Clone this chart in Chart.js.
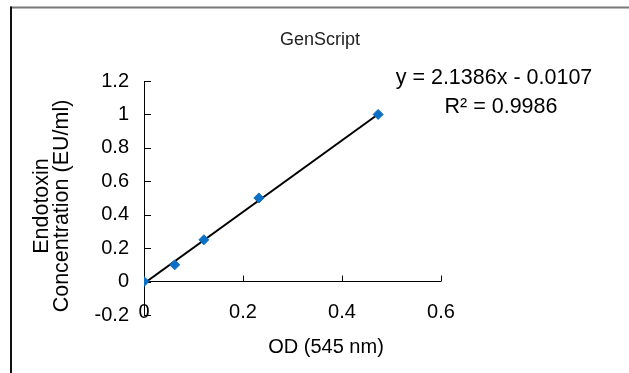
<!DOCTYPE html>
<html>
<head>
<meta charset="utf-8">
<script src="https://cdn.jsdelivr.net/npm/chart.js@4/dist/chart.umd.min.js"></script>
<style>
  html, body { margin: 0; padding: 0; background: #fff; }
  canvas { display: block; }
</style>
</head>
<body>
<canvas id="chart" width="629" height="373"></canvas>
<script>
// Data
const odValues = [0, 0.062, 0.121, 0.232, 0.473];     // OD (545 nm)
const concValues = [0, 0.1, 0.25, 0.5, 1];            // EU/ml
const xTickValues = [0, 0.2, 0.4, 0.6];
const yTickValues = [-0.2, 0, 0.2, 0.4, 0.6, 0.8, 1, 1.2];
const trendSlope = 2.1386;
const trendIntercept = -0.0107;
const equationText = 'y = 2.1386x - 0.0107';
const r2Text = 'R\u00B2 = 0.9986';

const FONT = '"Liberation Sans", Arial, sans-serif';

const points = odValues.map((x, i) => ({ x: x, y: concValues[i] }));
const firstX = odValues[0];
const lastX = odValues[odValues.length - 1];
const trendPoints = [
  { x: firstX, y: trendSlope * firstX + trendIntercept },
  { x: lastX, y: trendSlope * lastX + trendIntercept }
];

const fmt = v => String(Math.round(v * 10) / 10);

// inside tick marks, frame and the free text boxes
const decorPlugin = {
  id: 'decor',
  beforeDatasetsDraw(chart) {
    const { ctx, chartArea, scales } = chart;
    const y0 = scales.y.getPixelForValue(0);
    ctx.save();
    ctx.strokeStyle = '#000';
    ctx.lineWidth = 1;
    ctx.beginPath();
    yTickValues.forEach(v => {
      const py = Math.round(scales.y.getPixelForValue(v)) + 0.5;
      ctx.moveTo(chartArea.left, py);
      ctx.lineTo(chartArea.left + 7, py);
    });
    xTickValues.forEach(v => {
      if (v === 0) return;
      const px = Math.round(scales.x.getPixelForValue(v)) + 0.5;
      ctx.moveTo(px, y0);
      ctx.lineTo(px, y0 - 6);
    });
    ctx.stroke();
    ctx.restore();
  },
  afterDraw(chart) {
    const { ctx } = chart;
    ctx.save();
    // frame
    ctx.lineWidth = 2;
    ctx.strokeStyle = '#7a7a7a';
    ctx.beginPath();
    ctx.moveTo(10, 7.5);
    ctx.lineTo(629, 7.5);
    ctx.stroke();
    ctx.strokeStyle = '#111';
    ctx.beginPath();
    ctx.moveTo(11, 6.5);
    ctx.lineTo(11, 373);
    ctx.stroke();

    ctx.textBaseline = 'middle';
    ctx.textAlign = 'center';
    ctx.fillStyle = '#222';
    ctx.font = '18px ' + FONT;
    ctx.fillText('GenScript', 320, 40);

    ctx.fillStyle = '#000';
    ctx.font = '21.5px ' + FONT;
    ctx.fillText(equationText, 494, 78);
    ctx.fillText(r2Text, 501, 107);
    ctx.font = '20px ' + FONT;
    ctx.fillText('OD (545 nm)', 326, 347);

    ctx.font = '21.5px ' + FONT;
    ctx.translate(52, 206);
    ctx.rotate(-Math.PI / 2);
    ctx.fillText('Endotoxin', 0, -10);
    ctx.fillText('Concentration (EU/ml)', 0, 10);
    ctx.restore();
  }
};

new Chart(document.getElementById('chart'), {
  type: 'scatter',
  data: {
    datasets: [
      {
        label: 'Standards',
        data: points,
        pointStyle: 'rectRot',
        pointRadius: 5,
        backgroundColor: '#0b6fc4',
        borderColor: '#0b6fc4',
        borderWidth: 1,
        order: 1
      },
      {
        label: 'Linear fit',
        data: trendPoints,
        showLine: true,
        borderColor: '#000',
        borderWidth: 2,
        pointRadius: 0,
        order: 2
      }
    ]
  },
  options: {
    responsive: false,
    animation: false,
    layout: { padding: { left: 0, top: 81, right: 188, bottom: 0 } },
    plugins: {
      legend: { display: false },
      tooltip: { enabled: false }
    },
    scales: {
      x: {
        type: 'linear',
        min: 0,
        max: 0.6,
        afterFit(scale) { scale.height = 58; },
        afterBuildTicks(scale) { scale.ticks = xTickValues.map(v => ({ value: v })); },
        border: { display: false },
        grid: { display: false, drawTicks: false },
        ticks: {
          mirror: true,
          padding: -9,
          color: '#000',
          font: { family: FONT, size: 20 },
          callback: fmt
        }
      },
      y: {
        type: 'linear',
        min: -0.2,
        max: 1.2,
        afterFit(scale) { scale.width = 144; },
        afterBuildTicks(scale) { scale.ticks = yTickValues.map(v => ({ value: v })); },
        border: { display: true, color: '#000', width: 1 },
        grid: {
          drawTicks: false,
          color: c => (c.tick && c.tick.value === 0 ? '#000' : 'rgba(0,0,0,0)'),
          lineWidth: 1
        },
        ticks: {
          padding: 15,
          color: '#000',
          font: { family: FONT, size: 20 },
          callback: fmt
        }
      }
    }
  },
  plugins: [decorPlugin]
});
</script>
</body>
</html>
